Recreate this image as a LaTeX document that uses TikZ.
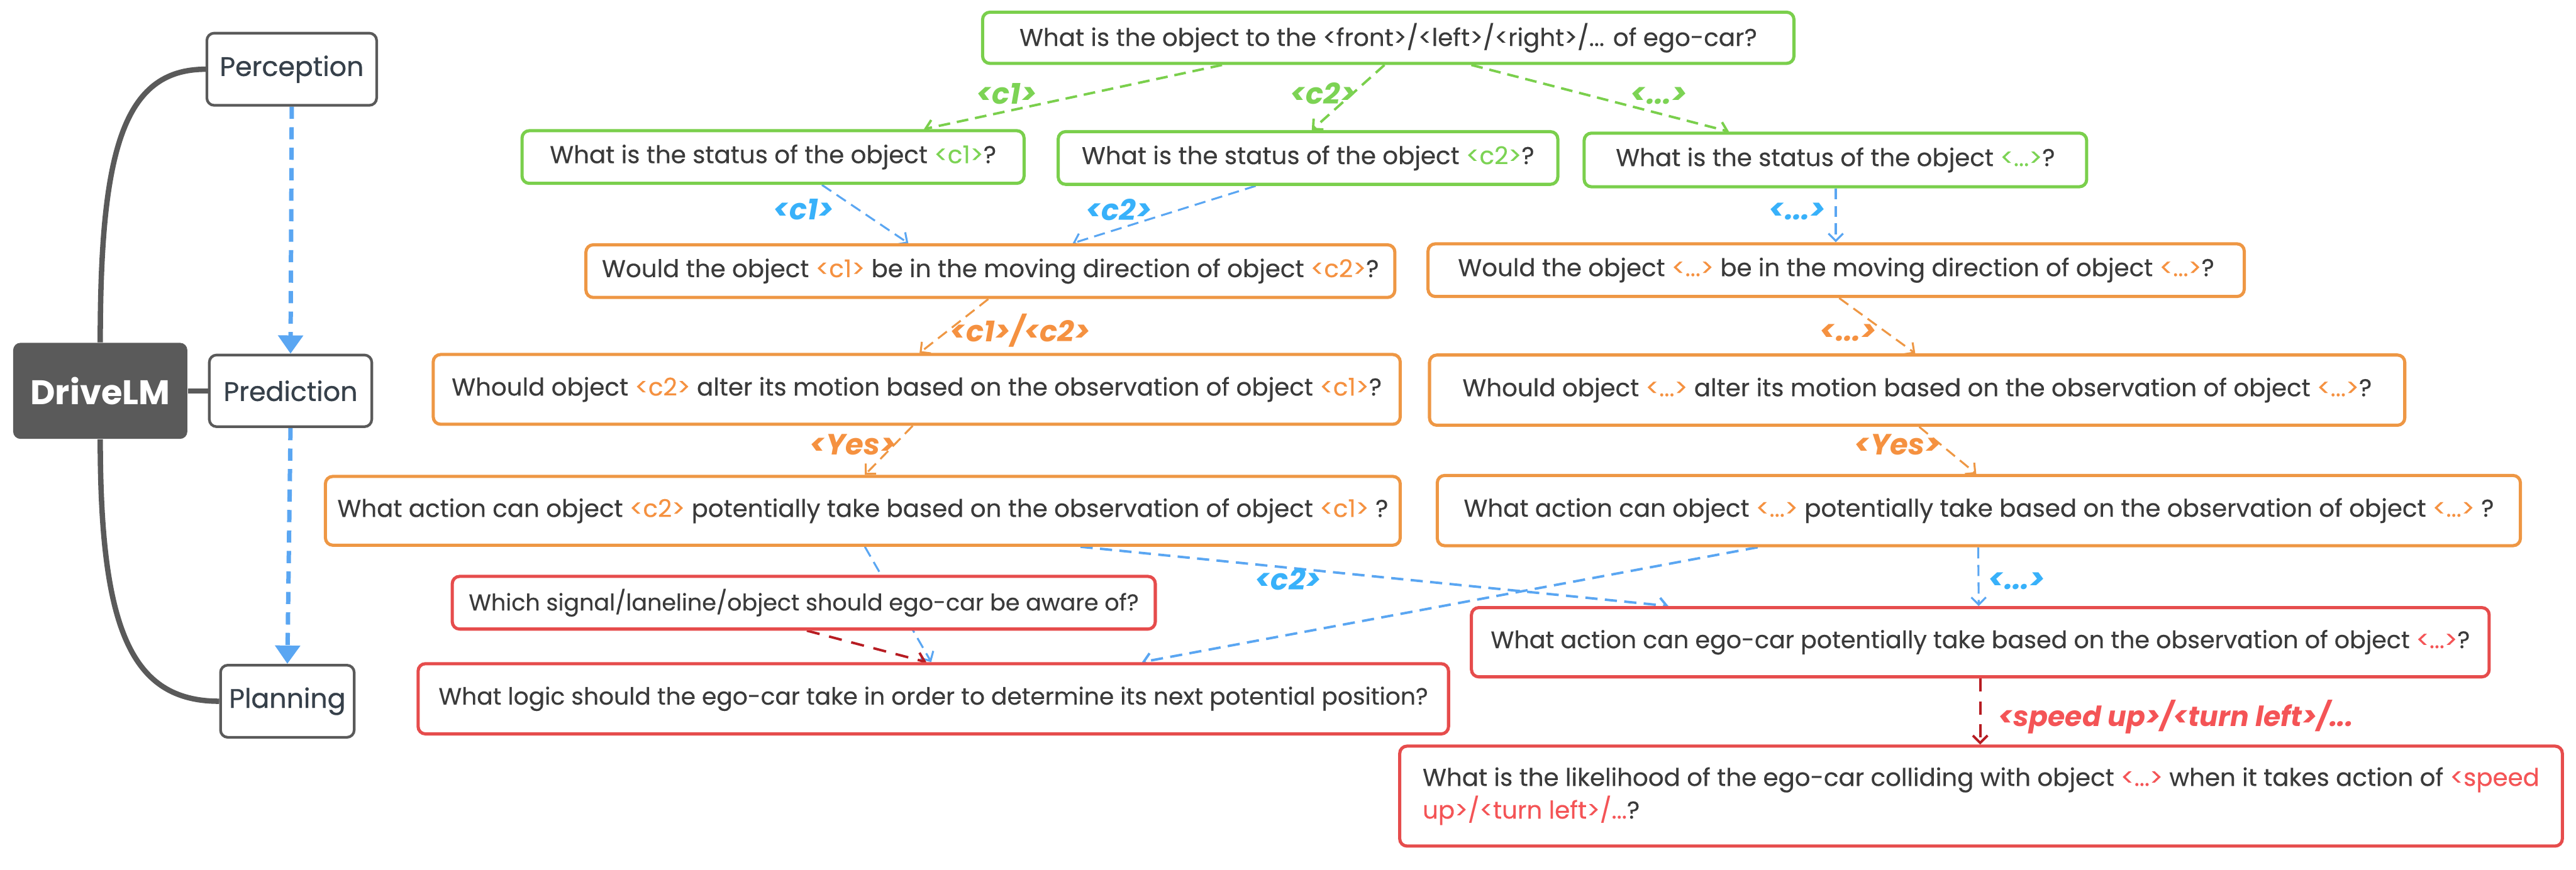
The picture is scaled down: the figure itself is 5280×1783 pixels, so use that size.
\documentclass[tikz,border=0pt]{standalone}
\usepackage{fontspec}
\setmainfont{Poppins}
\newfontfamily\qfam{Poppins}[FakeBold=0.3]
\newfontfamily\mfam{Poppins}[FakeBold=0.7]
\usetikzlibrary{arrows.meta,backgrounds,calc}
\definecolor{gr}{HTML}{7ACF4C}
\definecolor{grl}{HTML}{7CD354}
\definecolor{orb}{HTML}{EE9744}
\definecolor{orl}{HTML}{F59140}
\definecolor{rdb}{HTML}{E64C4C}
\definecolor{rdl}{HTML}{F45456}
\definecolor{drd}{HTML}{B71C22}
\definecolor{bll}{HTML}{5AA6F2}
\definecolor{bllab}{HTML}{38B1FA}
\definecolor{mg}{HTML}{5A5A5A}
\definecolor{tx}{HTML}{3A3A3A}
\definecolor{mmtx}{HTML}{36404A}
\newcommand\boxfnt{\qfam\fontsize{10}{13.4}\selectfont}
\newcommand\labfnt{\fontsize{12}{14}\selectfont\bfseries\itshape}
\newcommand\rlabfnt{\fontsize{11.4}{14}\selectfont\bfseries\itshape}
\newcommand\mmfnt{\mfam\fontsize{11}{13}\selectfont}
\newcommand\drivefnt{\fontsize{14}{16}\selectfont\bfseries}
\newcommand\tg[1]{\textcolor{grl}{#1}}
\newcommand\tor[1]{\textcolor{orl}{#1}}
\newcommand\trd[1]{\textcolor{rdl}{#1}}
\begin{document}
\begin{tikzpicture}[x=0.2pt,y=-0.2pt,
  bx/.style 2 args={minimum width=#1*0.2pt, minimum height=#2*0.2pt},
  fsz/.style={font={\qfam\fontsize{#1}{13.4}\selectfont}},
  qbox/.style={draw, fill=white, rounded corners=3pt, line width=1.3pt, inner sep=0pt, font=\boxfnt, text=tx},
  gbox/.style={qbox, draw=gr},
  obox/.style={qbox, draw=orb},
  rbox/.style={qbox, draw=rdb},
  mbox/.style={draw=mg, fill=white, rounded corners=3pt, line width=1.1pt, inner sep=0pt, font=\mmfnt, text=mmtx},
  lab/.style={inner sep=0pt, font=\labfnt},
  glab/.style={lab, text=grl},
  blab/.style={lab, text=bllab},
  olab/.style={lab, text=orl},
  rlab/.style={lab, text=rdl, anchor=west, font=\rlabfnt},
  con/.style={line width=0.8pt, -{Straight Barb[length=3pt,width=6pt]}},
  gcon/.style={con, draw=gr, line width=1pt, dash pattern=on 4.8pt off 2.8pt},
  bcon/.style={con, draw=bll, dash pattern=on 4.6pt off 2.6pt},
  bcon2/.style={con, draw=bll, line width=1pt, dash pattern=on 5pt off 3pt},
  ocon/.style={con, draw=orb, dash pattern=on 4.6pt off 2.6pt},
  rcon/.style={con, draw=drd, line width=1pt, dash pattern=on 5.4pt off 4pt},
  mm/.style={draw=mg, line width=2.2pt},
  bigarr/.style={draw=bll, line width=1.8pt, dash pattern=on 5pt off 3.4pt, -{Triangle[length=7.5pt,width=10pt]}}
]
\useasboundingbox (0,0) rectangle (5280,1783);

% mind map
\node[draw=none, fill=mg, rounded corners=3pt, bx={357}{197}, text=white, font=\drivefnt, inner sep=0pt] (drive) at (205.5,801.5) {DriveLM};
\node[mbox, bx={348}{148}] (perc) at (598,142) {Perception};
\node[mbox, bx={333}{147}] (pred) at (595.5,801.5) {Prediction};
\node[mbox, bx={274}{148}] (plan) at (589,1438) {Planning};

% green
\node[gbox, bx={1663}{105}] (q0) at (2845.5,77.5) {What is the object to the <front>/<left>/<right>/... of ego-car?};
\node[gbox, bx={1029}{108}] (s1) at (1584.5,322) {What is the status of the object \tg{<c1>}?};
\node[gbox, bx={1024}{108}] (s2) at (2681,324) {What is the status of the object \tg{<c2>}?};
\node[gbox, bx={1030}{110}] (s3) at (3762,328) {What is the status of the object \tg{<...>}?};

% orange
\node[obox, bx={1658}{108}] (m1) at (2030,556) {Would the object \tor{<c1>} be in the moving direction of object \tor{<c2>}?};
\node[obox, bx={1673}{108}] (m2) at (3763.5,554) {Would the object \tor{<...>} be in the moving direction of object \tor{<...>}?};
\node[obox, bx={1982}{143}] (w1) at (1879,798.5) {Whould object \tor{<c2>} alter its motion based on the observation of object \tor{<c1>}?};
\node[obox, bx={1999}{144}] (w2) at (3929.5,800) {Whould object \tor{<...>} alter its motion based on the observation of object \tor{<...>}?};
\node[obox, bx={2203}{141}] (a1) at (1768.5,1047.5) {What action can object \tor{<c2>} potentially take based on the observation of object \tor{<c1>} ?};
\node[obox, bx={2220}{144}] (a2) at (4056,1047) {What action can object \tor{<...>} potentially take based on the observation of object \tor{<...>} ?};

% red
\node[rbox, bx={1441}{108}, fsz=9.4] (sig) at (1647.5,1236) {Which signal/laneline/object should ego-car be aware of?};
\node[rbox, bx={2112}{144}, fsz=9.7] (logic) at (1913,1433) {What logic should the ego-car take in order to determine its next potential position?};
\node[rbox, bx={2086}{142}, fsz=9.8] (ego) at (4059,1317) {What action can ego-car potentially take based on the observation of object \trd{<...>}?};
\node[rbox, bx={2383}{205}, align=left] (lik) at (4060.5,1632.5) {What is the likelihood of the ego-car colliding with object \trd{<...>} when it takes action of \trd{<speed}\\\trd{up>/<turn left>/...}?};

% labels
\node[glab] (lg1) at (2063,192) {<c1>};
\node[glab] (lg2) at (2712,192) {<c2>};
\node[glab] (lg3) at (3400,196) {<...>};
\node[blab] (lb1) at (1647,430) {<c1>};
\node[blab] (lb2) at (2293,430) {<c2>};
\node[blab] (lb3) at (3684,433) {<...>};
\node[olab] (lo1) at (2091,678) {<c1>/<c2>};
\node[olab] (lo2) at (3788,683) {<...>};
\node[olab] (lo3) at (1748,912) {<Yes>};
\node[olab] (lo4) at (3889,912) {<Yes>};
\node[blab] (lb4) at (2640,1188) {<c2>};
\node[blab] (lb5) at (4134,1192) {<...>};
\node[rlab] (lr1) at (4095,1470) {<speed up>/<turn left>/...};

\begin{scope}[on background layer]
\draw[mm] (drive.north) .. controls +(0,-390) and +(-170,0) .. (perc.west);
\draw[mm] (drive.south) .. controls +(0,390) and +(-180,0) .. (plan.west);
\draw[mm] (drive.east) -- (pred.west);
\draw[bigarr] (perc.south) -- (pred.north);
\draw[bigarr] (pred.south) -- (plan.north);

\draw[gcon] ($(q0.south west)+(494,0)$) -- ($(s1.north west)+(827,0)$);
\draw[gcon] ($(q0.south west)+(827,0)$) -- ($(s2.north west)+(523,0)$);
\draw[gcon] ($(q0.south west)+(1005,0)$) -- ($(s3.north west)+(300,0)$);

\draw[bcon] ($(s1.south west)+(618,0)$) -- ($(m1.north west)+(664,0)$);
\draw[bcon] ($(s2.south west)+(408,0)$) -- ($(m1.north west)+(1001,0)$);
\draw[bcon] ($(s3.south west)+(519,0)$) -- ($(m2.north west)+(839,0)$);

\draw[ocon] ($(m1.south west)+(828,0)$) -- ($(w1.north west)+(1000,0)$);
\draw[ocon] ($(w1.south west)+(986,0)$) -- ($(a1.north west)+(1109,0)$);
\draw[ocon] ($(m2.south west)+(846,0)$) -- ($(w2.north west)+(999,0)$);
\draw[ocon] ($(w2.south west)+(1007,0)$) -- ($(a2.north west)+(1108,0)$);

\draw[bcon] ($(a1.south west)+(1109,0)$) -- ($(logic.north west)+(1055,0)$);
\draw[rcon] ($(sig.south west)+(730,0)$) -- ($(logic.north west)+(1045,0)$);
\draw[bcon2] ($(a1.south west)+(1551,0)$) -- ($(ego.north west)+(407,0)$);
\draw[bcon2] ($(a2.south west)+(660,0)$) -- ($(logic.north west)+(1487,0)$);
\draw[bcon] ($(a2.south west)+(1112,0)$) -- ($(ego.north west)+(1043,0)$);
\draw[rcon] ($(ego.south west)+(1046,0)$) -- ($(lik.north west)+(1193,0)$);
\end{scope}
\end{tikzpicture}
\end{document}
